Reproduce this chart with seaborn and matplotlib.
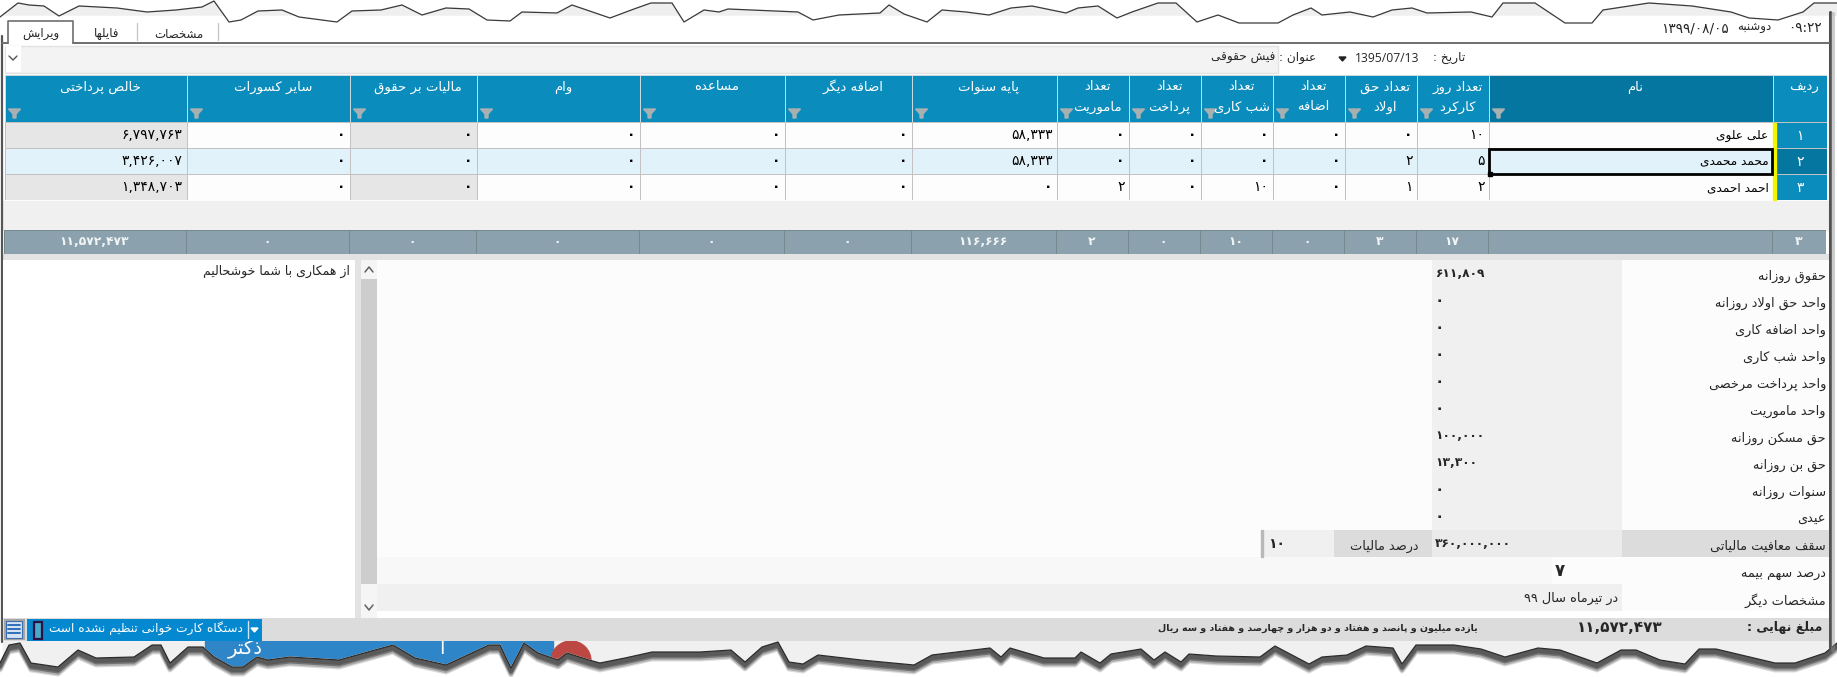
import re
import numpy as np
import matplotlib
matplotlib.use("Agg")
import matplotlib.pyplot as plt
from matplotlib.colors import ListedColormap
from matplotlib.patches import Polygon, Rectangle, Circle
from matplotlib.transforms import ScaledTranslation
import seaborn as sns

W, H = 1837, 677

# table data, in reading order (right to left)
columns = ["ردیف", "نام", "تعداد روز|کارکرد", "تعداد حق|اولاد", "تعداد|اضافه", "تعداد|شب کاری",
           "تعداد|پرداخت", "تعداد|ماموریت", "پایه سنوات", "اضافه دیگر", "مساعده", "وام",
           "مالیات بر حقوق", "سایر کسورات", "خالص پرداختی"]
names = ["علی علوی", "محمد محمدی", "احمد احمدی"]
work_days = [10, 5, 2]
child_days = [0, 2, 1]
overtime = [0, 0, 0]
night_work = [0, 0, 10]
paid_leave = [0, 0, 0]
missions = [0, 0, 2]
seniority = [58333, 58333, 0]
other_extra = [0, 0, 0]
advance = [0, 0, 0]
loan = [0, 0, 0]
salary_tax = [0, 0, 0]
other_deductions = [0, 0, 0]
net_pay = [6797763, 3426007, 1348703]

# form under the table
form_labels = ["حقوق روزانه", "واحد حق اولاد روزانه", "واحد اضافه کاری", "واحد شب کاری",
               "واحد پرداخت مرخصی", "واحد ماموریت", "حق مسکن روزانه", "حق بن روزانه",
               "سنوات روزانه", "عیدی", "سقف معافیت مالیاتی", "درصد سهم بیمه", "مشخصات دیگر"]
form_values = [611809, 0, 0, 0, 0, 0, 100000, 13300, 0, 0, 360000000]
tax_percent = 10
insurance_percent = 7
other_note = "در تیرماه سال ۹۹"
final_label = "مبلغ نهایی :"
final_words = "یازده میلیون و پانصد و هفتاد و دو هزار و چهارصد و هفتاد و سه ریال"
note_text = "از همکاری با شما خوشحالیم"
card_text = "دستگاه کارت خوانی تنظیم نشده است"
tab_labels = ["ویرایش", "فایلها", "مشخصات"]

# torn paper edges (x, y in pixels)
top_x = [0, 18, 29, 44, 59, 79, 117, 147, 176, 202, 214, 229, 241, 258, 282, 299, 337, 352, 381, 402, 422,
         446, 469, 487, 510, 522, 557, 572, 610, 634, 651, 672, 684, 704, 719, 728, 798, 813, 839, 880, 889, 904,
         927, 942, 966, 989, 1011, 1032, 1066, 1078, 1098, 1117, 1132, 1158, 1176, 1197, 1218, 1239, 1278, 1293,
         1311, 1322, 1350, 1373, 1392, 1412, 1427, 1471, 1492, 1503, 1535, 1565, 1592, 1603, 1649, 1692, 1731,
         1749, 1778, 1803, 1814, 1837]
top_y = [17, 3, 5, 6, 16, 6, 8, 12, 10, 7, 1, 22, 20, 11, 10, 17, 22, 11, 10, 5, 15, 8, 9, 20, 21, 12, 13, 5,
         18, 9, 3, 3, 22, 10, 12, 9, 12, 20, 15, 13, 5, 14, 22, 10, 12, 15, 8, 6, 13, 8, 6, 18, 12, 3, 3, 22,
         15, 23, 23, 15, 8, 15, 12, 17, 10, 8, 13, 12, 17, 3, 3, 23, 23, 10, 3, 6, 12, 18, 20, 12, 3, 3]
bottom_x = [0, 9, 20, 31, 58, 78, 96, 134, 152, 161, 170, 188, 203, 214, 232, 243, 257, 268, 290, 339, 375, 393,
            415, 446, 489, 500, 511, 524, 538, 558, 567, 589, 600, 625, 652, 665, 700, 731, 745, 762, 778, 789,
            803, 818, 861, 914, 932, 990, 1001, 1010, 1044, 1075, 1081, 1100, 1111, 1141, 1154, 1165, 1181,
            1189, 1216, 1260, 1275, 1309, 1322, 1347, 1366, 1393, 1402, 1416, 1454, 1481, 1505, 1538, 1560,
            1597, 1621, 1636, 1660, 1685, 1699, 1716, 1775, 1795, 1825, 1837]
bottom_y = [663, 645, 643, 663, 667, 650, 658, 657, 645, 645, 663, 647, 647, 657, 667, 667, 657, 660, 657, 660,
            650, 645, 658, 665, 645, 645, 668, 643, 653, 660, 653, 660, 663, 658, 652, 652, 652, 650, 662, 647,
            642, 662, 664, 655, 660, 665, 655, 648, 657, 648, 658, 658, 652, 663, 654, 649, 660, 652, 662, 654,
            656, 657, 646, 664, 657, 655, 646, 648, 664, 645, 645, 649, 657, 648, 650, 663, 650, 650, 660, 664,
            649, 649, 663, 663, 653, 643]

sns.set_style("white")
plt.rcParams["font.family"] = ["DejaVu Sans"]

# ---- small persian shaper, matplotlib draws glyphs one by one with no joining
FOUR = {"ب": 0xFE8F, "ت": 0xFE95, "ث": 0xFE99, "ج": 0xFE9D, "ح": 0xFEA1, "خ": 0xFEA5, "س": 0xFEB1, "ش": 0xFEB5,
        "ص": 0xFEB9, "ض": 0xFEBD, "ط": 0xFEC1, "ظ": 0xFEC5, "ع": 0xFEC9, "غ": 0xFECD, "ف": 0xFED1, "ق": 0xFED5,
        "ل": 0xFEDD, "م": 0xFEE1, "ن": 0xFEE5, "ه": 0xFEE9, "پ": 0xFB56, "چ": 0xFB7A, "ک": 0xFB8E, "گ": 0xFB92,
        "ی": 0xFBFC}
TWO = {"ا": 0xFE8D, "آ": 0xFE81, "د": 0xFEA9, "ذ": 0xFEAB, "ر": 0xFEAD, "ز": 0xFEAF, "ژ": 0xFB8A, "و": 0xFEED}


def fa(text):
    text = str(text)
    out = []
    i = 0
    while i < len(text):
        ch = text[i]
        prev = text[i - 1] if i > 0 else ""
        nxt = text[i + 1] if i + 1 < len(text) else ""
        joined = prev in FOUR
        if ch == "ل" and nxt == "ا":
            out.append(chr(0xFEFC if joined else 0xFEFB))
            i += 2
            continue
        if ch in FOUR:
            base = FOUR[ch]
            if nxt in FOUR or nxt in TWO:
                out.append(chr(base + (3 if joined else 2)))
            else:
                out.append(chr(base + (1 if joined else 0)))
        elif ch in TWO:
            out.append(chr(TWO[ch] + (1 if joined else 0)))
        else:
            out.append(ch)
        i += 1
    # right to left, digit runs keep their order
    parts = re.findall(r"[0-9۰-۹][0-9۰-۹,:/]*|.", "".join(out))
    return "".join(parts[::-1])


def num(value):
    return f"{value:,}".translate(str.maketrans("0123456789", "۰۱۲۳۴۵۶۷۸۹"))


fig = plt.figure(figsize=(W / 100, H / 100), dpi=100, facecolor="white")
bg = fig.add_axes([0, 0, 1, 1])
bg.set_xlim(0, W)
bg.set_ylim(H, 0)
bg.axis("off")

# overlay for all loose text, stays above the heatmaps
over = fig.add_axes([0, 0, 1, 1], facecolor="none")
over.set_xlim(0, W)
over.set_ylim(H, 0)
over.axis("off")
over.set_zorder(10)


def grid(codes, labels, edges, top, bottom, palette, size=8, color="black", weight="normal",
         align="right", line="#c2c2c2", lw=0.6):
    # one heatmap, its x axis stretched so every column gets its own width
    codes = np.array(codes)
    box = [edges[0] / W, 1 - bottom / H, (edges[-1] - edges[0]) / W, (bottom - top) / H]
    ax = fig.add_axes(box)
    sns.heatmap(codes, ax=ax, annot=np.array(labels), fmt="", cbar=False, vmin=-0.5, vmax=len(palette) - 0.5,
                cmap=ListedColormap(palette), linewidths=lw, linecolor=line,
                annot_kws={"fontsize": size, "color": color, "fontweight": weight})
    index = np.arange(len(edges))
    ax.set_xscale("function", functions=(lambda x: np.interp(x, index, edges), lambda x: np.interp(x, edges, index)))
    ax.set_xlim(0, len(edges) - 1)
    ax.axis("off")
    if align == "right":
        pad = ScaledTranslation(-4 / 100, 0, fig.dpi_scale_trans)
        for t in ax.texts:
            x, y = t.get_position()
            t.set_position((np.floor(x) + 1, y))
            t.set_ha("right")
            t.set_transform(ax.transData + pad)
    return ax


# ---- window background and bottom strip
bg.add_patch(Rectangle((0, 0), W, H, color="white", zorder=0))
bg.fill_between(top_x, top_y, 15, where=np.array(top_y) < 15, interpolate=True, color="#efefef", zorder=1)
bg.plot(top_x, top_y, color="#3a3a3a", lw=0.9, zorder=2)
bg.add_patch(Rectangle((3, 641), 1826, 36, color="#f0f0f0", zorder=1))
bg.add_patch(Rectangle((205, 641), 348, 36, color="#2e85c7", zorder=2))
bg.add_patch(Circle((571, 661), 20, color="#bd4743", zorder=2))
bg.text(263, 649, fa("ذکتر"), color="white", fontsize=14, ha="right", va="center", zorder=2)
bg.text(445, 649, fa("آ"), color="white", fontsize=14, ha="right", va="center", zorder=2)
paper = Polygon(list(zip(bottom_x, bottom_y)) + [(W, H), (0, H)], closed=True, color="white", zorder=3)
bg.add_patch(paper)
# soft shadow under the tear, darkest right below the line
for off, width, col, al in [(7, 5, "#9a9a9a", 0.35), (6, 4.5, "#808080", 0.5), (4.5, 4, "#666666", 0.8),
                            (3, 4, "#5a5a5a", 1.0), (1.5, 3, "#5a5a5a", 1.0)]:
    shade, = bg.plot(bottom_x, np.array(bottom_y) + off, color=col, lw=width * 0.72, alpha=al, zorder=4)
    shade.set_clip_path(paper)
bg.plot(bottom_x, bottom_y, color="#2b2b2b", lw=0.9, zorder=5)

# window frame
bg.plot([1829.5, 1829.5], [12, 648], color="#505050", lw=2.2, zorder=6)
bg.plot([1833, 1833], [14, 650], color="#909090", lw=3, alpha=0.45, zorder=6)
bg.plot([2, 2], [36, 642], color="#555555", lw=1.6, zorder=6)
bg.plot([73, 1829], [42.5, 42.5], color="#6e6e6e", lw=1.4, zorder=6)
bg.plot([8, 8, 73, 73], [42.5, 20.5, 20.5, 42.5], color="#6e6e6e", lw=1.2, zorder=6)
bg.plot([2, 8], [42.5, 42.5], color="#6e6e6e", lw=1.4, zorder=6)
for x in [136.5, 218]:
    bg.plot([x, x], [23, 40], color="#c4c4c4", lw=0.9, zorder=6)

# ---- table
edges = [4.5, 186.5, 349.5, 476.5, 639.5, 784.5, 911.5, 1056.5, 1128.5, 1200.5, 1272.5, 1344.5, 1416.5,
         1488.5, 1772.5, 1826.5]
header_colors = ["#0a8cbc", "#0476a0"]
head_codes = [[1 if c == "نام" else 0 for c in columns[::-1]]]
head_labels = [[""] * len(columns)]
grid(head_codes, head_labels, edges, 75, 122, header_colors, line="#c9d9e0")

series = [work_days, child_days, overtime, night_work, paid_leave, missions, seniority, other_extra, advance,
          loan, salary_tax, other_deductions, net_pay]
body_colors = ["#fdfdfd", "#e1f2fa", "#e6e6e6", "#0a8cbc", "#0476a0"]
shaded = {"مالیات بر حقوق", "خالص پرداختی"}
body_codes = []
body_labels = []
for r, name in enumerate(names):
    row_codes = []
    for c in columns:
        if c == "ردیف":
            row_codes.append(4 if r == 1 else 3)
        elif r == 1:
            row_codes.append(1)
        else:
            row_codes.append(2 if c in shaded else 0)
    row_text = ["", fa(name)] + [num(s[r]) for s in series]
    body_codes.append(row_codes[::-1])
    body_labels.append(row_text[::-1])
body = grid(body_codes, body_labels, edges, 122, 200.5, body_colors, size=10)
shaped_names = [fa(n) for n in names]
for t in body.texts:
    if t.get_text() in shaped_names:
        t.set_fontsize(8.7)
    elif t.get_text() == "۰":
        t.set_fontweight("bold")

# row numbers, white on the blue column
for r, y in enumerate([135.5, 161.5, 187.5]):
    over.text(1800, y, num(r + 1), color="white", fontsize=10, ha="center", va="center")
    over.add_patch(Rectangle((1772.5, 122.5 + r * 26), 3.5, 25, color="#f5f500"))
over.add_patch(Rectangle((1489, 148.5), 283, 25.5, fill=False, ec="black", lw=2))
over.add_patch(Rectangle((1487.5, 171.5), 4, 4, color="black"))

# gap and totals row
bg.add_patch(Rectangle((3, 200.5), 1826, 29, color="#f0f0f0", zorder=1))
bg.add_patch(Rectangle((3, 254), 1826, 6, color="#e3e3e3", zorder=1))
total_edges = [e - 1 for e in edges]
total_text = [num(len(names)), ""] + [num(int(np.sum(s))) for s in series]
grid([[0] * len(columns)], [total_text[::-1]], total_edges, 229.5, 254, ["#8ba2ae"], size=8.8, color="#f2f5f6",
     weight="bold", align="center", line="#76898f")

# header titles and filter glyphs
left_edges = edges[::-1]
for i, title in enumerate(columns):
    x1, x0 = left_edges[i], left_edges[i + 1]
    lines = title.split("|")
    cx = (x0 + x1) / 2 + 5
    over.text(cx, 87, fa(lines[0]), color="white", fontsize=9.5, ha="center", va="center")
    if len(lines) > 1:
        over.text(cx, 107, fa(lines[1]), color="white", fontsize=9.5, ha="center", va="center")
    if title != "ردیف":
        fx = x0 + 10
        over.add_patch(Polygon([(fx - 6, 109), (fx + 6, 109), (fx + 1.5, 114), (fx + 1.5, 118), (fx - 1.5, 118),
                                (fx - 1.5, 114)], closed=True, color="#a9b0b3"))

# ---- top line
over.text(1805, 28, "۰۹:۲۲", fontsize=9.8, ha="center", va="center")
over.text(1754, 28, fa("دوشنبه"), fontsize=8.5, ha="center", va="center")
over.text(1695, 28, "۱۳۹۹/۰۸/۰۵", fontsize=9.8, ha="center", va="center")
for label, x in zip(tab_labels, [41, 107, 179]):
    over.text(x, 34, fa(label), fontsize=8.5, ha="center", va="center")
bg.add_patch(Rectangle((5, 45.5), 1273, 27, fc="#f3f3f3", ec="#e2e2e2", lw=1, zorder=6))
bg.add_patch(Rectangle((5.5, 46), 15, 26, fc="white", ec="none", zorder=6))
over.plot([9, 13, 17], [56, 60, 56], color="#555555", lw=1)
over.text(1465, 58, fa("تاریخ :"), fontsize=8.7, ha="right", va="center")
over.text(1387, 58, "1395/07/13", fontsize=8.7, ha="center", va="center", family="Open Sans")
over.add_patch(Polygon([(1339, 57), (1346, 57), (1342.5, 61)], closed=True, color="#222222"))
over.text(1316, 58, fa("عنوان :"), fontsize=8.7, ha="right", va="center")
over.text(1275, 58, fa("فیش حقوقی"), fontsize=8.7, ha="right", va="center")

# ---- form grid, heatmap of background shades
form_edges = [377, 1262, 1334, 1432, 1552, 1622, 1829]
form_colors = ["#fcfcfc", "#f0f0f0", "#ebebeb", "#dcdcdc", "#f8f8f8"]
form_codes = [[0, 0, 0, 1, 1, 0] for _ in range(10)]
form_codes += [[0, 1, 3, 2, 2, 3], [4, 4, 4, 4, 0, 0], [1, 1, 1, 1, 1, 0]]
form_blank = [[""] * 6 for _ in form_codes]
grid(form_codes, form_blank, form_edges, 260, 611, form_colors, lw=0)

text_y = 276.7
for i, label in enumerate(form_labels):
    over.text(1826, text_y + i * 27, fa(label), fontsize=9.3, ha="right", va="center")
for i, value in enumerate(form_values):
    over.text(1435, 273.5 + i * 27, num(value), fontsize=11 if value == 0 else 8.8, fontweight="bold", ha="left",
              va="center")
over.text(1268, 544, num(tax_percent), fontsize=10, fontweight="bold", ha="left", va="center")
over.text(1419, 546, fa("درصد مالیات"), fontsize=9.3, ha="right", va="center")
over.text(1555, 571, num(insurance_percent), fontsize=12, fontweight="bold", ha="left", va="center")
over.text(1618, 598, fa(other_note), fontsize=9.3, ha="right", va="center")
over.add_patch(Rectangle((1261, 530), 2, 27, color="#b8b8b8"))

# ---- left note panel and scroll bar
bg.add_patch(Rectangle((3, 260), 352, 358, fc="white", ec="none", zorder=6))
bg.add_patch(Rectangle((355, 260), 6, 358, fc="#e3e3e3", ec="none", zorder=6))
bg.add_patch(Rectangle((361, 260), 16, 358, fc="#f5f5f5", ec="none", zorder=6))
bg.add_patch(Rectangle((361, 279), 16, 305, fc="#cdcdcd", ec="none", zorder=6))
over.plot([365, 369, 373], [272, 267, 272], color="#606060", lw=1.1)
over.plot([365, 369, 373], [605, 610, 605], color="#606060", lw=1.1)
over.text(350, 271, fa(note_text), fontsize=9, ha="right", va="center")

# ---- status bar
bg.add_patch(Rectangle((3, 618), 1826, 23, fc="#dcdcdc", ec="none", zorder=6))
bg.add_patch(Rectangle((3.5, 619), 21, 21, fc="#a6a6a6", ec="none", zorder=6))
bg.add_patch(Rectangle((6, 621), 16, 17, fc="#d4e3f4", ec="#3d6fb0", lw=0.8, zorder=7))
for y in [625, 629, 633]:
    bg.plot([8, 20], [y, y], color="#2f6fb8", lw=1.4, zorder=8)
bg.add_patch(Rectangle((27, 619), 235, 21.5, fc="#0489d1", ec="none", zorder=6))
bg.add_patch(Rectangle((33.5, 621.5), 8, 17, fc="#4aa8c8", ec="#2a1040", lw=1.6, zorder=7))
over.plot([248, 248], [621, 638], color="#cfe6f5", lw=1)
over.add_patch(Polygon([(251, 628), (258, 628), (254.5, 632)], closed=True, color="white"))
over.text(243, 628.5, fa(card_text), color="white", fontsize=8.7, ha="right", va="center")
over.text(1478, 628.5, fa(final_words), fontsize=6.8, fontweight="bold", ha="right", va="center")
over.text(1620, 628, num(int(np.sum(net_pay))), fontsize=11, fontweight="bold", ha="center", va="center")
over.text(1822, 628, fa(final_label), fontsize=9, fontweight="bold", ha="right", va="center")

fig.savefig("out.png", dpi=100)
